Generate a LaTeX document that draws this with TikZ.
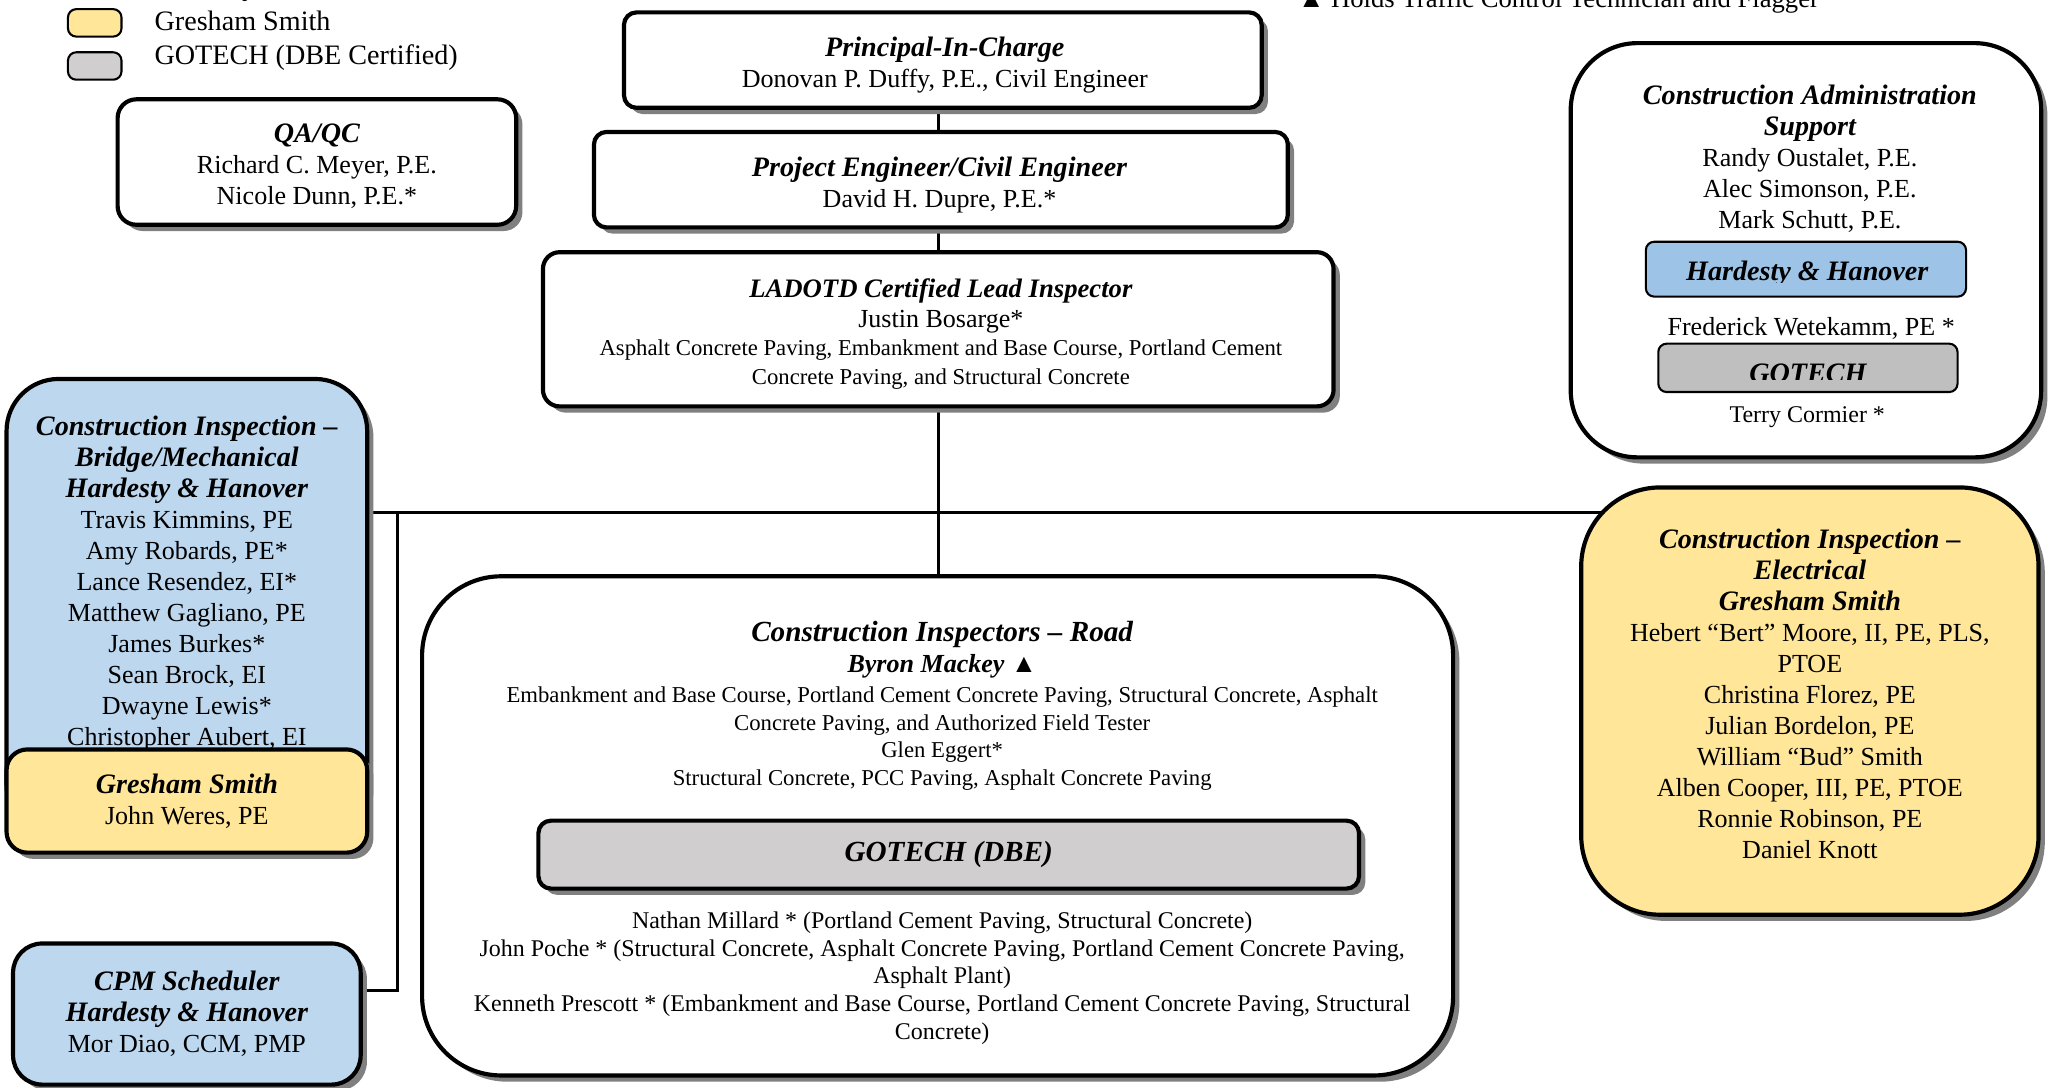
\documentclass[tikz,border=0pt]{standalone}
\usepackage{fontspec}
\setmainfont{Liberation Serif}
\usetikzlibrary{shadows,backgrounds}

\definecolor{hhblue}{RGB}{189,215,238}
\definecolor{hhdark}{RGB}{157,195,230}
\definecolor{gsyellow}{RGB}{255,230,153}
\definecolor{gogray}{RGB}{208,206,206}
\definecolor{gograydk}{RGB}{191,191,191}
\definecolor{shade}{RGB}{128,128,128}

\def\px{0.627pt}
\newcommand\hd{\fontsize{13.5}{14.9}\selectfont\bfseries\itshape}
\newcommand\nm{\fontsize{12.5}{14.9}\selectfont}
\newcommand\sm{\fontsize{10.9}{13.3}\selectfont}

\tikzset{
  orgbox/.style={draw, line width=2pt, fill=white, rounded corners=#1, align=center,
    inner sep=0pt, font=\nm,
    drop shadow={shadow xshift=3pt, shadow yshift=-3pt, opacity=1, fill=shade}},
  orgbox/.default=8pt,
  tagbox/.style={draw, line width=1pt, rounded corners=4pt, inner sep=0pt},
  txt/.style={align=center, inner sep=0pt, font=\nm},
  link/.style={line width=1.3pt},
}

\begin{document}
\begin{tikzpicture}[x=\px,y=-\px]

\useasboundingbox (0,0) rectangle (1568,832);

% legend
\node[tagbox, fill=gsyellow, minimum width=41*\px, minimum height=21*\px] (keygs) at (72.5,17.5) {};
\node[tagbox, fill=gogray, minimum width=41*\px, minimum height=21*\px] (keygo) at (72.5,50.5) {};
\node[anchor=base west, inner sep=0pt, font=\fontsize{13.5}{16}\selectfont] (keyhh) at (118,-3.7) {Hardesty \& Hanover};
\node[anchor=base west, inner sep=0pt, font=\fontsize{13.5}{16}\selectfont] (keygstext) at (118,23) {Gresham Smith};
\node[anchor=base west, inner sep=0pt, font=\fontsize{13.5}{16}\selectfont] (keygotext) at (118,49.7) {GOTECH (DBE Certified)};
\node[anchor=base west, inner sep=0pt, font=\fontsize{12.8}{15}\selectfont] (flagnote) at (993,6) {▲ Holds Traffic Control Technician and Flagger};

% main chain
\coordinate (spine) at (718,0);
\node[orgbox=6pt, minimum width=488*\px, minimum height=73*\px] (principal) at (721.5,46) {};
\node[txt] (principaltext) at (723,50) {{\hd Principal-In-Charge}\\Donovan P. Duffy, P.E., Civil Engineer};
\node[orgbox=6pt, minimum width=531*\px, minimum height=73*\px] (project) at (720,137.5) {};
\node[txt] (projecttext) at (719,141.5) {{\hd Project Engineer/Civil Engineer}\\David H. Dupre, P.E.*};
\node[orgbox=8pt, minimum width=605*\px, minimum height=118*\px] (ladotd) at (718,252) {};
\node[txt] (ladotdtext) at (720,255.5)
  {{\fontsize{12.8}{14.9}\selectfont\bfseries\itshape LADOTD Certified Lead Inspector}\\[-0.5pt]
   Justin Bosarge*\\[-1.2pt]
   {\sm Asphalt Concrete Paving, Embankment and Base Course, Portland Cement}\\[-1.1pt]
   {\sm Concrete Paving, and Structural Concrete}};
\node[orgbox=9pt, minimum width=305*\px, minimum height=96*\px] (qaqc) at (242.5,124) {};
\node[txt] (qaqctext) at (242.5,127.5) {{\hd QA/QC}\\Richard C. Meyer, P.E.\\Nicole Dunn, P.E.*};

% admin support
\node[orgbox=32pt, minimum width=360*\px, minimum height=317*\px] (admin) at (1382,191.5) {};
\node[txt] (admintext) at (1385,121.5)
  {{\hd Construction Administration}\\{\hd Support}\\Randy Oustalet, P.E.\\Alec Simonson, P.E.\\Mark Schutt, P.E.};
\node[tagbox, fill=hhdark, minimum width=245*\px, minimum height=42*\px] (hhtag) at (1382,206) {};
\begin{scope}
  \clip (1262,186) rectangle (1503,216);
  \node[anchor=base, inner sep=0pt, font=\hd] (hhtagtext) at (1383,215) {Hardesty \& Hanover};
\end{scope}
\node[txt] (fred) at (1386,251) {Frederick Wetekamm, PE *};
\node[tagbox, fill=gograydk, minimum width=229*\px, minimum height=37*\px] (gotag) at (1383.5,281.5) {};
\begin{scope}
  \clip (1271,264) rectangle (1496,290.5);
  \node[anchor=base, inner sep=0pt, font=\hd] (gotagtext) at (1383.5,293) {GOTECH};
\end{scope}
\node[txt, font=\fontsize{11.5}{13}\selectfont] (terry) at (1383,319.5) {Terry Cormier *};

% bridge / mechanical
\node[orgbox=25pt, fill=hhblue, minimum width=276*\px, minimum height=350*\px] (bridge) at (143,465) {};
\node[txt] (bridgetext) at (143,446.5)
  {{\hd Construction Inspection –}\\{\hd Bridge/Mechanical}\\{\hd Hardesty \& Hanover}\\
   Travis Kimmins, PE\\Amy Robards, PE*\\Lance Resendez, EI*\\Matthew Gagliano, PE\\
   James Burkes*\\Sean Brock, EI\\Dwayne Lewis*\\Christopher Aubert, EI};
\node[orgbox=10pt, fill=gsyellow, minimum width=276*\px, minimum height=79*\px] (bridgegs) at (143,613)
  {{\hd Gresham Smith}\\John Weres, PE};

% scheduler
\node[orgbox=14pt, fill=hhblue, minimum width=266*\px, minimum height=108*\px] (cpm) at (143,776)
  {{\hd CPM Scheduler}\\{\hd Hardesty \& Hanover}\\Mor Diao, CCM, PMP};

% electrical
\node[orgbox=38pt, fill=gsyellow, minimum width=350*\px, minimum height=327*\px] (elec) at (1385,536.5) {};
\node[txt] (electext) at (1385,531)
  {{\hd Construction Inspection –}\\{\hd Electrical}\\{\hd Gresham Smith}\\
   Hebert “Bert” Moore, II, PE, PLS,\\PTOE\\Christina Florez, PE\\Julian Bordelon, PE\\
   William “Bud” Smith\\Alben Cooper, III, PE, PTOE\\Ronnie Robinson, PE\\Daniel Knott};

% road
\node[orgbox=38pt, minimum width=789*\px, minimum height=382*\px] (road) at (717.5,632) {};
\node[txt, font=\sm] (roadtext) at (721,540)
  {{\fontsize{14}{16}\selectfont\bfseries\itshape Construction Inspectors – Road}\\[1.7pt]
   {\fontsize{12.5}{14}\selectfont\bfseries\itshape Byron Mackey ▲}\\[1.1pt]
   Embankment and Base Course, Portland Cement Concrete Paving, Structural Concrete, Asphalt\\
   Concrete Paving, and Authorized Field Tester\\
   Glen Eggert*\\
   Structural Concrete, PCC Paving, Asphalt Concrete Paving};
\node[orgbox=6pt, fill=gogray, minimum width=628*\px, minimum height=52*\px,
  font=\fontsize{14}{16}\selectfont\bfseries\itshape] (roadgo) at (726,654) {GOTECH (DBE)};
\node[txt, font=\fontsize{11.5}{13.3}\selectfont] (roadgotext) at (721,748.5)
  {Nathan Millard * (Portland Cement Paving, Structural Concrete)\\
   John Poche * (Structural Concrete, Asphalt Concrete Paving, Portland Cement Concrete Paving,\\
   Asphalt Plant)\\
   Kenneth Prescott * (Embankment and Base Course, Portland Cement Concrete Paving, Structural\\
   Concrete)};

% connectors
\coordinate (bus) at (718,392);
\coordinate (tap) at (304,392);
\begin{pgfonlayer}{background}
  \draw[link] (principal.south -| spine) -- (project.north -| spine);
  \draw[link] (project.south -| spine) -- (ladotd.north -| spine);
  \draw[link] (ladotd.south -| spine) -- (road.north -| spine);
  \draw[link] (bridge.east |- bus) -- (elec.center |- bus);
  \draw[link] (tap) |- ([yshift=11.3pt]cpm.east);
\end{pgfonlayer}

\end{tikzpicture}
\end{document}
